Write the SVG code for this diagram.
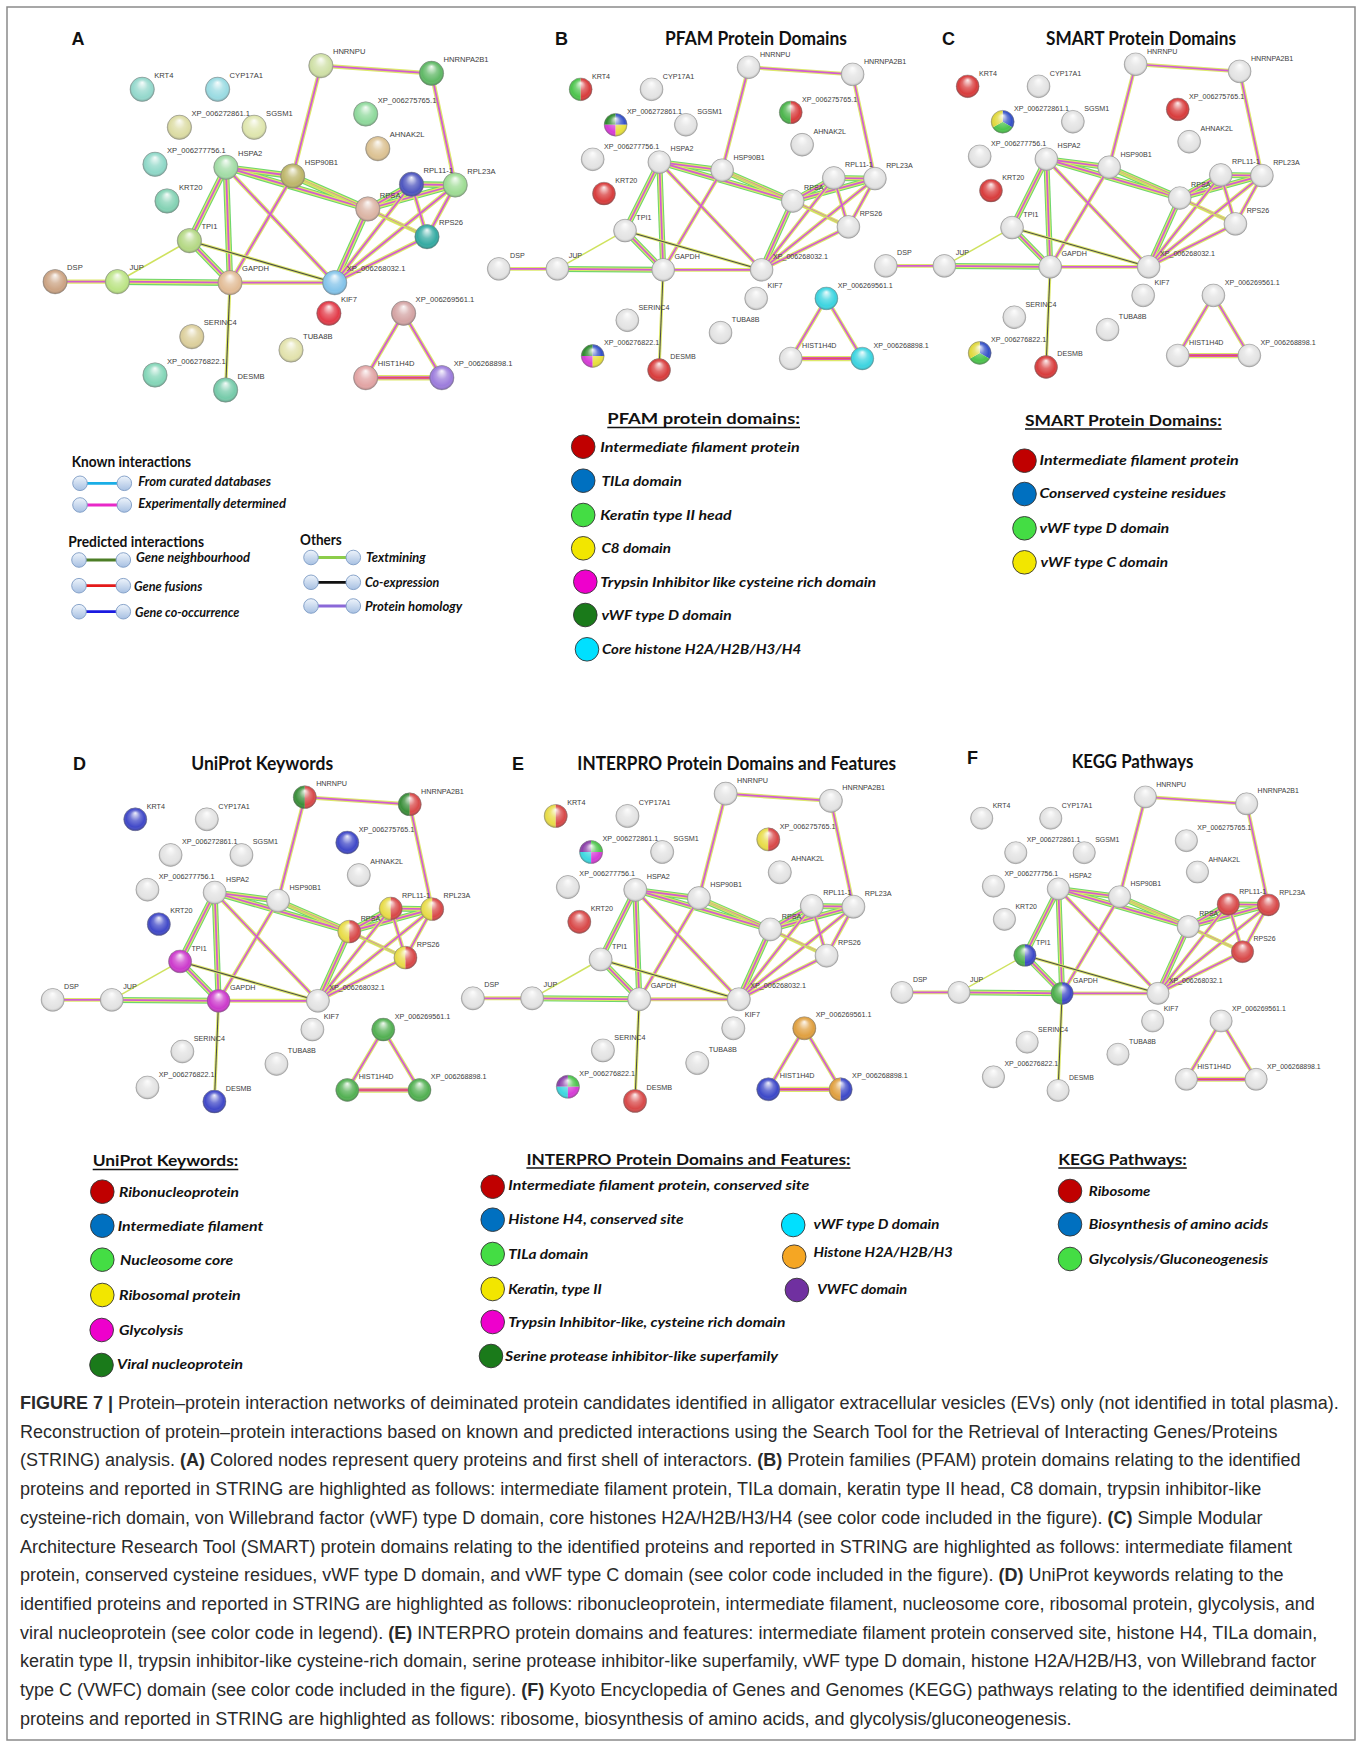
<svg xmlns="http://www.w3.org/2000/svg" width="1360" height="1744" viewBox="0 0 1360 1744">
<style>
.nodes text{font-family:"Liberation Sans",Arial,sans-serif;font-size:7.6px;fill:#3c3c3c}
.gl{fill:url(#gloss);stroke:#8f8f8f;stroke-width:.5}
.ey{fill:none;stroke:#dde86a;stroke-width:4.2}
.eyw{fill:none;stroke:#dde86a;stroke-width:5.6}
.ep{fill:none;stroke:#d35ad3;stroke-width:1.8}
.epw{fill:none;stroke:#d35ad3;stroke-width:3}
.er{fill:none;stroke:#e8505e;stroke-width:1.4}
.eg{fill:none;stroke:#6cd66c;stroke-width:6.4}
.ek{fill:none;stroke:#4b4b4b;stroke-width:1.1}
.ey2{fill:none;stroke:#dde86a;stroke-width:3.2}
.et{fill:none;stroke:#cfe25e;stroke-width:1.6}
.plet{font-family:"Liberation Sans",Arial,sans-serif;font-weight:700;font-size:18px;fill:#111;text-anchor:middle}
.ptit{font-family:Lato,"Liberation Sans",sans-serif;font-weight:700;font-size:18.5px;fill:#111;text-anchor:middle}
.lgh{font-family:Lato,"Liberation Sans",sans-serif;font-weight:700;font-size:15px;fill:#111}
.lgt{font-family:Lato,"Liberation Sans",sans-serif;font-weight:700;font-style:italic;font-size:14px;fill:#111}
.lgc{fill:url(#lgg);stroke:#7d9bc4;stroke-width:.9}
.lc{stroke:#333;stroke-width:.9}
.ul{stroke:#111;stroke-width:1.3}
.cap{font-family:"Liberation Sans",Arial,sans-serif;font-size:18px;fill:#2a2a2a}
.b{font-weight:700}
</style>
<defs>
<radialGradient id="gloss" cx="0.5" cy="0.5" r="0.5" fx="0.5" fy="0.22">
<stop offset="0" stop-color="#fff" stop-opacity=".92"/>
<stop offset=".45" stop-color="#fff" stop-opacity=".25"/>
<stop offset=".8" stop-color="#fff" stop-opacity="0"/>
<stop offset="1" stop-color="#000" stop-opacity=".28"/>
</radialGradient>
<linearGradient id="lgg" x1="0" y1="0" x2="0" y2="1"><stop offset="0" stop-color="#eef4fb"/><stop offset="1" stop-color="#a7c0e2"/></linearGradient>
<path id="hL" d="M0-12.2A12.2 12.2 0 0 0 0 12.2Z"/>
<path id="hR" d="M0-12.2A12.2 12.2 0 0 1 0 12.2Z"/>
<path id="qTL" d="M0 0V-12.2A12.2 12.2 0 0 0-12.2 0Z"/>
<path id="qTR" d="M0 0H12.2A12.2 12.2 0 0 0 0-12.2Z"/>
<path id="qBL" d="M0 0H-12.2A12.2 12.2 0 0 0 0 12.2Z"/>
<path id="qBR" d="M0 0V12.2A12.2 12.2 0 0 0 12.2 0Z"/>
<path id="t1" d="M0 0V-12.2A12.2 12.2 0 0 1 10.57 6.1Z"/>
<path id="t2" d="M0 0L10.57 6.1A12.2 12.2 0 0 1-10.57 6.1Z"/>
<path id="t3" d="M0 0L-10.57 6.1A12.2 12.2 0 0 1 0-12.2Z"/>
<g id="eS">
<line x1="320.9" y1="65.7" x2="431.5" y2="73.3"/>
<line x1="320.9" y1="65.7" x2="292.7" y2="176"/>
<line x1="431.5" y1="73.3" x2="455.2" y2="185"/>
<line x1="225.9" y1="167.3" x2="334.7" y2="282.7"/>
<line x1="292.7" y1="176" x2="230" y2="282.7"/>
<line x1="230" y1="282.7" x2="334.7" y2="282.7"/>
<line x1="334.7" y1="282.7" x2="411.5" y2="184.3"/>
<line x1="334.7" y1="282.7" x2="455.2" y2="185"/>
<line x1="334.7" y1="282.7" x2="427" y2="236.7"/>
<line x1="455.2" y1="185" x2="427" y2="236.7"/>
<line x1="411.5" y1="184.3" x2="427" y2="236.7"/>
<line x1="367.8" y1="209" x2="427" y2="236.7"/>
<line x1="403.6" y1="313.3" x2="365.7" y2="377.7"/>
<line x1="403.6" y1="313.3" x2="441.8" y2="377.7"/>
<line x1="55.1" y1="281.7" x2="117.4" y2="281.7"/>
</g>
<g id="eR">
<line x1="225.9" y1="167.3" x2="292.7" y2="176"/>
<line x1="225.9" y1="167.3" x2="367.8" y2="209"/>
<line x1="292.7" y1="176" x2="367.8" y2="209"/>
<line x1="225.9" y1="167.3" x2="189.4" y2="240.7"/>
<line x1="225.9" y1="167.3" x2="230" y2="282.7"/>
<line x1="189.4" y1="240.7" x2="230" y2="282.7"/>
<line x1="117.4" y1="281.7" x2="230" y2="282.7"/>
<line x1="367.8" y1="209" x2="411.5" y2="184.3"/>
<line x1="367.8" y1="209" x2="455.2" y2="185"/>
<line x1="411.5" y1="184.3" x2="455.2" y2="185"/>
<line x1="334.7" y1="282.7" x2="367.8" y2="209"/>
</g>
<g id="eT">
<line x1="189.4" y1="240.7" x2="117.4" y2="281.7"/>
<line x1="292.7" y1="176" x2="427" y2="236.7"/>
</g>
<g id="eK">
<line x1="189.4" y1="240.7" x2="334.7" y2="282.7"/>
<line x1="230" y1="282.7" x2="225.6" y2="390"/>
</g>
<g id="eH"><line x1="365.7" y1="377.7" x2="441.8" y2="377.7"/></g>
<g id="edges">
<use href="#eR" class="eg"/><use href="#eR" class="ey"/><use href="#eR" class="ep"/>
<use href="#eS" class="ey"/><use href="#eS" class="ep"/>
<use href="#eT" class="et"/>
<use href="#eK" class="ey2"/><use href="#eK" class="ek"/>
<use href="#eH" class="eyw"/><use href="#eH" class="epw"/><use href="#eH" class="er"/>
</g>
</defs>
<rect x="0" y="0" width="1360" height="1744" fill="#fff"/>
<rect x="7" y="7" width="1348" height="1733" fill="none" stroke="#8a8a8a" stroke-width="1.5"/>

<!-- Panel titles -->
<g id="titles">
<text class="plet" x="78" y="45">A</text>
<text class="plet" x="561.5" y="45">B</text>
<text class="ptit" x="756" y="44.5" textLength="182" lengthAdjust="spacingAndGlyphs">PFAM Protein Domains</text>
<text class="plet" x="948.5" y="45">C</text>
<text class="ptit" x="1141" y="44.5" textLength="190" lengthAdjust="spacingAndGlyphs">SMART Protein Domains</text>
<text class="plet" x="79.5" y="770">D</text>
<text class="ptit" x="262.2" y="770" textLength="142" lengthAdjust="spacingAndGlyphs">UniProt Keywords</text>
<text class="plet" x="518" y="770">E</text>
<text class="ptit" x="736.7" y="770" textLength="318.7" lengthAdjust="spacingAndGlyphs">INTERPRO Protein Domains and Features</text>
<text class="plet" x="972.5" y="764">F</text>
<text class="ptit" x="1132.5" y="768" textLength="121.6" lengthAdjust="spacingAndGlyphs">KEGG Pathways</text>
</g>

<!-- Panel A -->
<g id="panel-A">
<g id="connectors-A"><use href="#edges"/></g>
<g id="nodes-A" class="nodes">
<g id="A-HNRNPU" transform="translate(320.9 65.7)"><circle r="12.2" fill="#cfe0a6"/><circle r="12.2" class="gl"/><text x="12" y="-11.5">HNRNPU</text></g>
<g id="A-HNRNPA2B1" transform="translate(431.5 73.3)"><circle r="12.2" fill="#5fb865"/><circle r="12.2" class="gl"/><text x="12" y="-11.5">HNRNPA2B1</text></g>
<g id="A-KRT4" transform="translate(142.2 89.3)"><circle r="12.2" fill="#94d8cc"/><circle r="12.2" class="gl"/><text x="12" y="-11.5">KRT4</text></g>
<g id="A-CYP17A1" transform="translate(217.6 89.3)"><circle r="12.2" fill="#9adbe2"/><circle r="12.2" class="gl"/><text x="12" y="-11.5">CYP17A1</text></g>
<g id="A-XP_006275765_1" transform="translate(365.7 114)"><circle r="12.2" fill="#8fd99c"/><circle r="12.2" class="gl"/><text x="12" y="-11.5">XP_006275765.1</text></g>
<g id="A-XP_006272861_1" transform="translate(179.4 127.3)"><circle r="12.2" fill="#dcdca4"/><circle r="12.2" class="gl"/><text x="12" y="-11.5">XP_006272861.1</text></g>
<g id="A-SGSM1" transform="translate(254.1 127.3)"><circle r="12.2" fill="#dfe6ae"/><circle r="12.2" class="gl"/><text x="12" y="-11.5">SGSM1</text></g>
<g id="A-AHNAK2L" transform="translate(377.8 148.7)"><circle r="12.2" fill="#dcc293"/><circle r="12.2" class="gl"/><text x="12" y="-11.5">AHNAK2L</text></g>
<g id="A-XP_006277756_1" transform="translate(155 164.3)"><circle r="12.2" fill="#8fd8c8"/><circle r="12.2" class="gl"/><text x="12" y="-11.5">XP_006277756.1</text></g>
<g id="A-HSPA2" transform="translate(225.9 167.3)"><circle r="12.2" fill="#a2dca6"/><circle r="12.2" class="gl"/><text x="12" y="-11.5">HSPA2</text></g>
<g id="A-HSP90B1" transform="translate(292.7 176)"><circle r="12.2" fill="#bdb66a"/><circle r="12.2" class="gl"/><text x="12" y="-11.5">HSP90B1</text></g>
<g id="A-RPL11-1" transform="translate(411.5 184.3)"><circle r="12.2" fill="#4d55bf"/><circle r="12.2" class="gl"/><text x="12" y="-11.5">RPL11-1</text></g>
<g id="A-RPL23A" transform="translate(455.2 185)"><circle r="12.2" fill="#9edc94"/><circle r="12.2" class="gl"/><text x="12" y="-11.5">RPL23A</text></g>
<g id="A-KRT20" transform="translate(167 201)"><circle r="12.2" fill="#84d2b4"/><circle r="12.2" class="gl"/><text x="12" y="-11.5">KRT20</text></g>
<g id="A-RPSA" transform="translate(367.8 209)"><circle r="12.2" fill="#dbb4a4"/><circle r="12.2" class="gl"/><text x="12" y="-11.5">RPSA</text></g>
<g id="A-RPS26" transform="translate(427 236.7)"><circle r="12.2" fill="#34aaa2"/><circle r="12.2" class="gl"/><text x="12" y="-11.5">RPS26</text></g>
<g id="A-TPI1" transform="translate(189.4 240.7)"><circle r="12.2" fill="#b4d884"/><circle r="12.2" class="gl"/><text x="12" y="-11.5">TPI1</text></g>
<g id="A-DSP" transform="translate(55.1 281.7)"><circle r="12.2" fill="#cca484"/><circle r="12.2" class="gl"/><text x="12" y="-11.5">DSP</text></g>
<g id="A-JUP" transform="translate(117.4 281.7)"><circle r="12.2" fill="#bce486"/><circle r="12.2" class="gl"/><text x="12" y="-11.5">JUP</text></g>
<g id="A-GAPDH" transform="translate(230 282.7)"><circle r="12.2" fill="#e2bc96"/><circle r="12.2" class="gl"/><text x="12" y="-11.5">GAPDH</text></g>
<g id="A-XP_006268032_1" transform="translate(334.7 282.7)"><circle r="12.2" fill="#84c4ea"/><circle r="12.2" class="gl"/><text x="12" y="-11.5">XP_006268032.1</text></g>
<g id="A-KIF7" transform="translate(328.9 313.3)"><circle r="12.2" fill="#e23a48"/><circle r="12.2" class="gl"/><text x="12" y="-11.5">KIF7</text></g>
<g id="A-XP_006269561_1" transform="translate(403.6 313.3)"><circle r="12.2" fill="#d4a4a4"/><circle r="12.2" class="gl"/><text x="12" y="-11.5">XP_006269561.1</text></g>
<g id="A-SERINC4" transform="translate(191.8 336.7)"><circle r="12.2" fill="#dccf9c"/><circle r="12.2" class="gl"/><text x="12" y="-11.5">SERINC4</text></g>
<g id="A-TUBA8B" transform="translate(291 350)"><circle r="12.2" fill="#e2e2ac"/><circle r="12.2" class="gl"/><text x="12" y="-11.5">TUBA8B</text></g>
<g id="A-XP_006276822_1" transform="translate(155 375)"><circle r="12.2" fill="#84d6b8"/><circle r="12.2" class="gl"/><text x="12" y="-11.5">XP_006276822.1</text></g>
<g id="A-HIST1H4D" transform="translate(365.7 377.7)"><circle r="12.2" fill="#e2a4a4"/><circle r="12.2" class="gl"/><text x="12" y="-11.5">HIST1H4D</text></g>
<g id="A-XP_006268898_1" transform="translate(441.8 377.7)"><circle r="12.2" fill="#9c7cdc"/><circle r="12.2" class="gl"/><text x="12" y="-11.5">XP_006268898.1</text></g>
<g id="A-DESMB" transform="translate(225.6 390)"><circle r="12.2" fill="#76cbaa"/><circle r="12.2" class="gl"/><text x="12" y="-11.5">DESMB</text></g>
</g>
</g>

<!-- Panel B -->
<g id="panel-B" transform="matrix(0.94 0 0 0.9335 447 5.94)">
<g id="connectors-B"><use href="#edges"/></g>
<g id="nodes-B" class="nodes">
<g id="B-HNRNPU" transform="translate(320.9 65.7)"><circle r="12.2" fill="#e3e3e3"/><circle r="12.2" class="gl"/><text x="12" y="-11.5">HNRNPU</text></g>
<g id="B-HNRNPA2B1" transform="translate(431.5 73.3)"><circle r="12.2" fill="#e3e3e3"/><circle r="12.2" class="gl"/><text x="12" y="-11.5">HNRNPA2B1</text></g>
<g id="B-KRT4" transform="translate(142.2 89.3)"><use href="#hL" fill="#4cc44c"/><use href="#hR" fill="#d83c3c"/><circle r="12.2" class="gl"/><text x="12" y="-11.5">KRT4</text></g>
<g id="B-CYP17A1" transform="translate(217.6 89.3)"><circle r="12.2" fill="#e3e3e3"/><circle r="12.2" class="gl"/><text x="12" y="-11.5">CYP17A1</text></g>
<g id="B-XP_006275765_1" transform="translate(365.7 114)"><use href="#hL" fill="#4cb44c"/><use href="#hR" fill="#d83c3c"/><circle r="12.2" class="gl"/><text x="12" y="-11.5">XP_006275765.1</text></g>
<g id="B-XP_006272861_1" transform="translate(179.4 127.3)"><use href="#qTL" fill="#2e8b2e"/><use href="#qTR" fill="#3450c8"/><use href="#qBL" fill="#d63cd6"/><use href="#qBR" fill="#e8e03c"/><circle r="12.2" class="gl"/><text x="12" y="-11.5">XP_006272861.1</text></g>
<g id="B-SGSM1" transform="translate(254.1 127.3)"><circle r="12.2" fill="#e3e3e3"/><circle r="12.2" class="gl"/><text x="12" y="-11.5">SGSM1</text></g>
<g id="B-AHNAK2L" transform="translate(377.8 148.7)"><circle r="12.2" fill="#e3e3e3"/><circle r="12.2" class="gl"/><text x="12" y="-11.5">AHNAK2L</text></g>
<g id="B-XP_006277756_1" transform="translate(155 164.3)"><circle r="12.2" fill="#e3e3e3"/><circle r="12.2" class="gl"/><text x="12" y="-11.5">XP_006277756.1</text></g>
<g id="B-HSPA2" transform="translate(225.9 167.3)"><circle r="12.2" fill="#e3e3e3"/><circle r="12.2" class="gl"/><text x="12" y="-11.5">HSPA2</text></g>
<g id="B-HSP90B1" transform="translate(292.7 176)"><circle r="12.2" fill="#e3e3e3"/><circle r="12.2" class="gl"/><text x="12" y="-11.5">HSP90B1</text></g>
<g id="B-RPL11-1" transform="translate(411.5 184.3)"><circle r="12.2" fill="#e3e3e3"/><circle r="12.2" class="gl"/><text x="12" y="-11.5">RPL11-1</text></g>
<g id="B-RPL23A" transform="translate(455.2 185)"><circle r="12.2" fill="#e3e3e3"/><circle r="12.2" class="gl"/><text x="12" y="-11.5">RPL23A</text></g>
<g id="B-KRT20" transform="translate(167 201)"><circle r="12.2" fill="#d83c3c"/><circle r="12.2" class="gl"/><text x="12" y="-11.5">KRT20</text></g>
<g id="B-RPSA" transform="translate(367.8 209)"><circle r="12.2" fill="#e3e3e3"/><circle r="12.2" class="gl"/><text x="12" y="-11.5">RPSA</text></g>
<g id="B-RPS26" transform="translate(427 236.7)"><circle r="12.2" fill="#e3e3e3"/><circle r="12.2" class="gl"/><text x="12" y="-11.5">RPS26</text></g>
<g id="B-TPI1" transform="translate(189.4 240.7)"><circle r="12.2" fill="#e3e3e3"/><circle r="12.2" class="gl"/><text x="12" y="-11.5">TPI1</text></g>
<g id="B-DSP" transform="translate(55.1 281.7)"><circle r="12.2" fill="#e3e3e3"/><circle r="12.2" class="gl"/><text x="12" y="-11.5">DSP</text></g>
<g id="B-JUP" transform="translate(117.4 281.7)"><circle r="12.2" fill="#e3e3e3"/><circle r="12.2" class="gl"/><text x="12" y="-11.5">JUP</text></g>
<g id="B-GAPDH" transform="translate(230 282.7)"><circle r="12.2" fill="#e3e3e3"/><circle r="12.2" class="gl"/><text x="12" y="-11.5">GAPDH</text></g>
<g id="B-XP_006268032_1" transform="translate(334.7 282.7)"><circle r="12.2" fill="#e3e3e3"/><circle r="12.2" class="gl"/><text x="12" y="-11.5">XP_006268032.1</text></g>
<g id="B-KIF7" transform="translate(328.9 313.3)"><circle r="12.2" fill="#e3e3e3"/><circle r="12.2" class="gl"/><text x="12" y="-11.5">KIF7</text></g>
<g id="B-XP_006269561_1" transform="translate(403.6 313.3)"><circle r="12.2" fill="#3cd4e0"/><circle r="12.2" class="gl"/><text x="12" y="-11.5">XP_006269561.1</text></g>
<g id="B-SERINC4" transform="translate(191.8 336.7)"><circle r="12.2" fill="#e3e3e3"/><circle r="12.2" class="gl"/><text x="12" y="-11.5">SERINC4</text></g>
<g id="B-TUBA8B" transform="translate(291 350)"><circle r="12.2" fill="#e3e3e3"/><circle r="12.2" class="gl"/><text x="12" y="-11.5">TUBA8B</text></g>
<g id="B-XP_006276822_1" transform="translate(155 375)"><use href="#qTL" fill="#2e8b2e"/><use href="#qTR" fill="#3450c8"/><use href="#qBL" fill="#d63cd6"/><use href="#qBR" fill="#e8e03c"/><circle r="12.2" class="gl"/><text x="12" y="-11.5">XP_006276822.1</text></g>
<g id="B-HIST1H4D" transform="translate(365.7 377.7)"><circle r="12.2" fill="#e3e3e3"/><circle r="12.2" class="gl"/><text x="12" y="-11.5">HIST1H4D</text></g>
<g id="B-XP_006268898_1" transform="translate(441.8 377.7)"><circle r="12.2" fill="#3cd4e0"/><circle r="12.2" class="gl"/><text x="12" y="-11.5">XP_006268898.1</text></g>
<g id="B-DESMB" transform="translate(225.6 390)"><circle r="12.2" fill="#d83c3c"/><circle r="12.2" class="gl"/><text x="12" y="-11.5">DESMB</text></g>
</g>
</g>

<!-- Panel C -->
<g id="panel-C" transform="matrix(0.94 0 0 0.9335 834 2.94)">
<g id="connectors-C"><use href="#edges"/></g>
<g id="nodes-C" class="nodes">
<g id="C-HNRNPU" transform="translate(320.9 65.7)"><circle r="12.2" fill="#e3e3e3"/><circle r="12.2" class="gl"/><text x="12" y="-11.5">HNRNPU</text></g>
<g id="C-HNRNPA2B1" transform="translate(431.5 73.3)"><circle r="12.2" fill="#e3e3e3"/><circle r="12.2" class="gl"/><text x="12" y="-11.5">HNRNPA2B1</text></g>
<g id="C-KRT4" transform="translate(142.2 89.3)"><circle r="12.2" fill="#d83c3c"/><circle r="12.2" class="gl"/><text x="12" y="-11.5">KRT4</text></g>
<g id="C-CYP17A1" transform="translate(217.6 89.3)"><circle r="12.2" fill="#e3e3e3"/><circle r="12.2" class="gl"/><text x="12" y="-11.5">CYP17A1</text></g>
<g id="C-XP_006275765_1" transform="translate(365.7 114)"><circle r="12.2" fill="#d83c3c"/><circle r="12.2" class="gl"/><text x="12" y="-11.5">XP_006275765.1</text></g>
<g id="C-XP_006272861_1" transform="translate(179.4 127.3)"><use href="#t1" fill="#3450c8"/><use href="#t2" fill="#4cc44c"/><use href="#t3" fill="#e0d83c"/><circle r="12.2" class="gl"/><text x="12" y="-11.5">XP_006272861.1</text></g>
<g id="C-SGSM1" transform="translate(254.1 127.3)"><circle r="12.2" fill="#e3e3e3"/><circle r="12.2" class="gl"/><text x="12" y="-11.5">SGSM1</text></g>
<g id="C-AHNAK2L" transform="translate(377.8 148.7)"><circle r="12.2" fill="#e3e3e3"/><circle r="12.2" class="gl"/><text x="12" y="-11.5">AHNAK2L</text></g>
<g id="C-XP_006277756_1" transform="translate(155 164.3)"><circle r="12.2" fill="#e3e3e3"/><circle r="12.2" class="gl"/><text x="12" y="-11.5">XP_006277756.1</text></g>
<g id="C-HSPA2" transform="translate(225.9 167.3)"><circle r="12.2" fill="#e3e3e3"/><circle r="12.2" class="gl"/><text x="12" y="-11.5">HSPA2</text></g>
<g id="C-HSP90B1" transform="translate(292.7 176)"><circle r="12.2" fill="#e3e3e3"/><circle r="12.2" class="gl"/><text x="12" y="-11.5">HSP90B1</text></g>
<g id="C-RPL11-1" transform="translate(411.5 184.3)"><circle r="12.2" fill="#e3e3e3"/><circle r="12.2" class="gl"/><text x="12" y="-11.5">RPL11-1</text></g>
<g id="C-RPL23A" transform="translate(455.2 185)"><circle r="12.2" fill="#e3e3e3"/><circle r="12.2" class="gl"/><text x="12" y="-11.5">RPL23A</text></g>
<g id="C-KRT20" transform="translate(167 201)"><circle r="12.2" fill="#d83c3c"/><circle r="12.2" class="gl"/><text x="12" y="-11.5">KRT20</text></g>
<g id="C-RPSA" transform="translate(367.8 209)"><circle r="12.2" fill="#e3e3e3"/><circle r="12.2" class="gl"/><text x="12" y="-11.5">RPSA</text></g>
<g id="C-RPS26" transform="translate(427 236.7)"><circle r="12.2" fill="#e3e3e3"/><circle r="12.2" class="gl"/><text x="12" y="-11.5">RPS26</text></g>
<g id="C-TPI1" transform="translate(189.4 240.7)"><circle r="12.2" fill="#e3e3e3"/><circle r="12.2" class="gl"/><text x="12" y="-11.5">TPI1</text></g>
<g id="C-DSP" transform="translate(55.1 281.7)"><circle r="12.2" fill="#e3e3e3"/><circle r="12.2" class="gl"/><text x="12" y="-11.5">DSP</text></g>
<g id="C-JUP" transform="translate(117.4 281.7)"><circle r="12.2" fill="#e3e3e3"/><circle r="12.2" class="gl"/><text x="12" y="-11.5">JUP</text></g>
<g id="C-GAPDH" transform="translate(230 282.7)"><circle r="12.2" fill="#e3e3e3"/><circle r="12.2" class="gl"/><text x="12" y="-11.5">GAPDH</text></g>
<g id="C-XP_006268032_1" transform="translate(334.7 282.7)"><circle r="12.2" fill="#e3e3e3"/><circle r="12.2" class="gl"/><text x="12" y="-11.5">XP_006268032.1</text></g>
<g id="C-KIF7" transform="translate(328.9 313.3)"><circle r="12.2" fill="#e3e3e3"/><circle r="12.2" class="gl"/><text x="12" y="-11.5">KIF7</text></g>
<g id="C-XP_006269561_1" transform="translate(403.6 313.3)"><circle r="12.2" fill="#e3e3e3"/><circle r="12.2" class="gl"/><text x="12" y="-11.5">XP_006269561.1</text></g>
<g id="C-SERINC4" transform="translate(191.8 336.7)"><circle r="12.2" fill="#e3e3e3"/><circle r="12.2" class="gl"/><text x="12" y="-11.5">SERINC4</text></g>
<g id="C-TUBA8B" transform="translate(291 350)"><circle r="12.2" fill="#e3e3e3"/><circle r="12.2" class="gl"/><text x="12" y="-11.5">TUBA8B</text></g>
<g id="C-XP_006276822_1" transform="translate(155 375)"><use href="#t1" fill="#3450c8"/><use href="#t2" fill="#4cc44c"/><use href="#t3" fill="#e0d83c"/><circle r="12.2" class="gl"/><text x="12" y="-11.5">XP_006276822.1</text></g>
<g id="C-HIST1H4D" transform="translate(365.7 377.7)"><circle r="12.2" fill="#e3e3e3"/><circle r="12.2" class="gl"/><text x="12" y="-11.5">HIST1H4D</text></g>
<g id="C-XP_006268898_1" transform="translate(441.8 377.7)"><circle r="12.2" fill="#e3e3e3"/><circle r="12.2" class="gl"/><text x="12" y="-11.5">XP_006268898.1</text></g>
<g id="C-DESMB" transform="translate(225.6 390)"><circle r="12.2" fill="#d83c3c"/><circle r="12.2" class="gl"/><text x="12" y="-11.5">DESMB</text></g>
</g>
</g>

<!-- Panel D -->
<g id="panel-D" transform="matrix(0.9486 0 0 0.9386 0.4 735.5)">
<g id="connectors-D"><use href="#edges"/></g>
<g id="nodes-D" class="nodes">
<g id="D-HNRNPU" transform="translate(320.9 65.7)"><use href="#hL" fill="#3a8f3a"/><use href="#hR" fill="#d84848"/><circle r="12.2" class="gl"/><text x="12" y="-11.5">HNRNPU</text></g>
<g id="D-HNRNPA2B1" transform="translate(431.5 73.3)"><use href="#hL" fill="#3a8f3a"/><use href="#hR" fill="#d84848"/><circle r="12.2" class="gl"/><text x="12" y="-11.5">HNRNPA2B1</text></g>
<g id="D-KRT4" transform="translate(142.2 89.3)"><circle r="12.2" fill="#4048c8"/><circle r="12.2" class="gl"/><text x="12" y="-11.5">KRT4</text></g>
<g id="D-CYP17A1" transform="translate(217.6 89.3)"><circle r="12.2" fill="#e3e3e3"/><circle r="12.2" class="gl"/><text x="12" y="-11.5">CYP17A1</text></g>
<g id="D-XP_006275765_1" transform="translate(365.7 114)"><circle r="12.2" fill="#4048c8"/><circle r="12.2" class="gl"/><text x="12" y="-11.5">XP_006275765.1</text></g>
<g id="D-XP_006272861_1" transform="translate(179.4 127.3)"><circle r="12.2" fill="#e3e3e3"/><circle r="12.2" class="gl"/><text x="12" y="-11.5">XP_006272861.1</text></g>
<g id="D-SGSM1" transform="translate(254.1 127.3)"><circle r="12.2" fill="#e3e3e3"/><circle r="12.2" class="gl"/><text x="12" y="-11.5">SGSM1</text></g>
<g id="D-AHNAK2L" transform="translate(377.8 148.7)"><circle r="12.2" fill="#e3e3e3"/><circle r="12.2" class="gl"/><text x="12" y="-11.5">AHNAK2L</text></g>
<g id="D-XP_006277756_1" transform="translate(155 164.3)"><circle r="12.2" fill="#e3e3e3"/><circle r="12.2" class="gl"/><text x="12" y="-11.5">XP_006277756.1</text></g>
<g id="D-HSPA2" transform="translate(225.9 167.3)"><circle r="12.2" fill="#e3e3e3"/><circle r="12.2" class="gl"/><text x="12" y="-11.5">HSPA2</text></g>
<g id="D-HSP90B1" transform="translate(292.7 176)"><circle r="12.2" fill="#e3e3e3"/><circle r="12.2" class="gl"/><text x="12" y="-11.5">HSP90B1</text></g>
<g id="D-RPL11-1" transform="translate(411.5 184.3)"><use href="#hL" fill="#e8dc48"/><use href="#hR" fill="#d84848"/><circle r="12.2" class="gl"/><text x="12" y="-11.5">RPL11-1</text></g>
<g id="D-RPL23A" transform="translate(455.2 185)"><use href="#hL" fill="#e8dc48"/><use href="#hR" fill="#d84848"/><circle r="12.2" class="gl"/><text x="12" y="-11.5">RPL23A</text></g>
<g id="D-KRT20" transform="translate(167 201)"><circle r="12.2" fill="#4048c8"/><circle r="12.2" class="gl"/><text x="12" y="-11.5">KRT20</text></g>
<g id="D-RPSA" transform="translate(367.8 209)"><use href="#hL" fill="#e8dc48"/><use href="#hR" fill="#d84848"/><circle r="12.2" class="gl"/><text x="12" y="-11.5">RPSA</text></g>
<g id="D-RPS26" transform="translate(427 236.7)"><use href="#hL" fill="#e8dc48"/><use href="#hR" fill="#d84848"/><circle r="12.2" class="gl"/><text x="12" y="-11.5">RPS26</text></g>
<g id="D-TPI1" transform="translate(189.4 240.7)"><circle r="12.2" fill="#cc3acc"/><circle r="12.2" class="gl"/><text x="12" y="-11.5">TPI1</text></g>
<g id="D-DSP" transform="translate(55.1 281.7)"><circle r="12.2" fill="#e3e3e3"/><circle r="12.2" class="gl"/><text x="12" y="-11.5">DSP</text></g>
<g id="D-JUP" transform="translate(117.4 281.7)"><circle r="12.2" fill="#e3e3e3"/><circle r="12.2" class="gl"/><text x="12" y="-11.5">JUP</text></g>
<g id="D-GAPDH" transform="translate(230 282.7)"><circle r="12.2" fill="#cc3acc"/><circle r="12.2" class="gl"/><text x="12" y="-11.5">GAPDH</text></g>
<g id="D-XP_006268032_1" transform="translate(334.7 282.7)"><circle r="12.2" fill="#e3e3e3"/><circle r="12.2" class="gl"/><text x="12" y="-11.5">XP_006268032.1</text></g>
<g id="D-KIF7" transform="translate(328.9 313.3)"><circle r="12.2" fill="#e3e3e3"/><circle r="12.2" class="gl"/><text x="12" y="-11.5">KIF7</text></g>
<g id="D-XP_006269561_1" transform="translate(403.6 313.3)"><circle r="12.2" fill="#52b052"/><circle r="12.2" class="gl"/><text x="12" y="-11.5">XP_006269561.1</text></g>
<g id="D-SERINC4" transform="translate(191.8 336.7)"><circle r="12.2" fill="#e3e3e3"/><circle r="12.2" class="gl"/><text x="12" y="-11.5">SERINC4</text></g>
<g id="D-TUBA8B" transform="translate(291 350)"><circle r="12.2" fill="#e3e3e3"/><circle r="12.2" class="gl"/><text x="12" y="-11.5">TUBA8B</text></g>
<g id="D-XP_006276822_1" transform="translate(155 375)"><circle r="12.2" fill="#e3e3e3"/><circle r="12.2" class="gl"/><text x="12" y="-11.5">XP_006276822.1</text></g>
<g id="D-HIST1H4D" transform="translate(365.7 377.7)"><circle r="12.2" fill="#52b052"/><circle r="12.2" class="gl"/><text x="12" y="-11.5">HIST1H4D</text></g>
<g id="D-XP_006268898_1" transform="translate(441.8 377.7)"><circle r="12.2" fill="#52b052"/><circle r="12.2" class="gl"/><text x="12" y="-11.5">XP_006268898.1</text></g>
<g id="D-DESMB" transform="translate(225.6 390)"><circle r="12.2" fill="#4048c8"/><circle r="12.2" class="gl"/><text x="12" y="-11.5">DESMB</text></g>
</g>
</g>

<!-- Panel E -->
<g id="panel-E" transform="matrix(0.951 0 0 0.9476 420.5 731.4)">
<g id="connectors-E"><use href="#edges"/></g>
<g id="nodes-E" class="nodes">
<g id="E-HNRNPU" transform="translate(320.9 65.7)"><circle r="12.2" fill="#e3e3e3"/><circle r="12.2" class="gl"/><text x="12" y="-11.5">HNRNPU</text></g>
<g id="E-HNRNPA2B1" transform="translate(431.5 73.3)"><circle r="12.2" fill="#e3e3e3"/><circle r="12.2" class="gl"/><text x="12" y="-11.5">HNRNPA2B1</text></g>
<g id="E-KRT4" transform="translate(142.2 89.3)"><use href="#hL" fill="#e8dc48"/><use href="#hR" fill="#d84848"/><circle r="12.2" class="gl"/><text x="12" y="-11.5">KRT4</text></g>
<g id="E-CYP17A1" transform="translate(217.6 89.3)"><circle r="12.2" fill="#e3e3e3"/><circle r="12.2" class="gl"/><text x="12" y="-11.5">CYP17A1</text></g>
<g id="E-XP_006275765_1" transform="translate(365.7 114)"><use href="#hL" fill="#e8dc48"/><use href="#hR" fill="#d84848"/><circle r="12.2" class="gl"/><text x="12" y="-11.5">XP_006275765.1</text></g>
<g id="E-XP_006272861_1" transform="translate(179.4 127.3)"><use href="#qTL" fill="#8a3ea8"/><use href="#qTR" fill="#4cc44c"/><use href="#qBL" fill="#3cd8e0"/><use href="#qBR" fill="#d63cd6"/><circle r="12.2" class="gl"/><text x="12" y="-11.5">XP_006272861.1</text></g>
<g id="E-SGSM1" transform="translate(254.1 127.3)"><circle r="12.2" fill="#e3e3e3"/><circle r="12.2" class="gl"/><text x="12" y="-11.5">SGSM1</text></g>
<g id="E-AHNAK2L" transform="translate(377.8 148.7)"><circle r="12.2" fill="#e3e3e3"/><circle r="12.2" class="gl"/><text x="12" y="-11.5">AHNAK2L</text></g>
<g id="E-XP_006277756_1" transform="translate(155 164.3)"><circle r="12.2" fill="#e3e3e3"/><circle r="12.2" class="gl"/><text x="12" y="-11.5">XP_006277756.1</text></g>
<g id="E-HSPA2" transform="translate(225.9 167.3)"><circle r="12.2" fill="#e3e3e3"/><circle r="12.2" class="gl"/><text x="12" y="-11.5">HSPA2</text></g>
<g id="E-HSP90B1" transform="translate(292.7 176)"><circle r="12.2" fill="#e3e3e3"/><circle r="12.2" class="gl"/><text x="12" y="-11.5">HSP90B1</text></g>
<g id="E-RPL11-1" transform="translate(411.5 184.3)"><circle r="12.2" fill="#e3e3e3"/><circle r="12.2" class="gl"/><text x="12" y="-11.5">RPL11-1</text></g>
<g id="E-RPL23A" transform="translate(455.2 185)"><circle r="12.2" fill="#e3e3e3"/><circle r="12.2" class="gl"/><text x="12" y="-11.5">RPL23A</text></g>
<g id="E-KRT20" transform="translate(167 201)"><circle r="12.2" fill="#d84848"/><circle r="12.2" class="gl"/><text x="12" y="-11.5">KRT20</text></g>
<g id="E-RPSA" transform="translate(367.8 209)"><circle r="12.2" fill="#e3e3e3"/><circle r="12.2" class="gl"/><text x="12" y="-11.5">RPSA</text></g>
<g id="E-RPS26" transform="translate(427 236.7)"><circle r="12.2" fill="#e3e3e3"/><circle r="12.2" class="gl"/><text x="12" y="-11.5">RPS26</text></g>
<g id="E-TPI1" transform="translate(189.4 240.7)"><circle r="12.2" fill="#e3e3e3"/><circle r="12.2" class="gl"/><text x="12" y="-11.5">TPI1</text></g>
<g id="E-DSP" transform="translate(55.1 281.7)"><circle r="12.2" fill="#e3e3e3"/><circle r="12.2" class="gl"/><text x="12" y="-11.5">DSP</text></g>
<g id="E-JUP" transform="translate(117.4 281.7)"><circle r="12.2" fill="#e3e3e3"/><circle r="12.2" class="gl"/><text x="12" y="-11.5">JUP</text></g>
<g id="E-GAPDH" transform="translate(230 282.7)"><circle r="12.2" fill="#e3e3e3"/><circle r="12.2" class="gl"/><text x="12" y="-11.5">GAPDH</text></g>
<g id="E-XP_006268032_1" transform="translate(334.7 282.7)"><circle r="12.2" fill="#e3e3e3"/><circle r="12.2" class="gl"/><text x="12" y="-11.5">XP_006268032.1</text></g>
<g id="E-KIF7" transform="translate(328.9 313.3)"><circle r="12.2" fill="#e3e3e3"/><circle r="12.2" class="gl"/><text x="12" y="-11.5">KIF7</text></g>
<g id="E-XP_006269561_1" transform="translate(403.6 313.3)"><circle r="12.2" fill="#e0a040"/><circle r="12.2" class="gl"/><text x="12" y="-11.5">XP_006269561.1</text></g>
<g id="E-SERINC4" transform="translate(191.8 336.7)"><circle r="12.2" fill="#e3e3e3"/><circle r="12.2" class="gl"/><text x="12" y="-11.5">SERINC4</text></g>
<g id="E-TUBA8B" transform="translate(291 350)"><circle r="12.2" fill="#e3e3e3"/><circle r="12.2" class="gl"/><text x="12" y="-11.5">TUBA8B</text></g>
<g id="E-XP_006276822_1" transform="translate(155 375)"><use href="#qTL" fill="#8a3ea8"/><use href="#qTR" fill="#4cc44c"/><use href="#qBL" fill="#3cd8e0"/><use href="#qBR" fill="#d63cd6"/><circle r="12.2" class="gl"/><text x="12" y="-11.5">XP_006276822.1</text></g>
<g id="E-HIST1H4D" transform="translate(365.7 377.7)"><circle r="12.2" fill="#3c48c8"/><circle r="12.2" class="gl"/><text x="12" y="-11.5">HIST1H4D</text></g>
<g id="E-XP_006268898_1" transform="translate(441.8 377.7)"><use href="#hL" fill="#e0a040"/><use href="#hR" fill="#3c48c8"/><circle r="12.2" class="gl"/><text x="12" y="-11.5">XP_006268898.1</text></g>
<g id="E-DESMB" transform="translate(225.6 390)"><circle r="12.2" fill="#d84848"/><circle r="12.2" class="gl"/><text x="12" y="-11.5">DESMB</text></g>
</g>
</g>

<!-- Panel F -->
<g id="panel-F" transform="matrix(0.9157 0 0 0.905 851.5 737.5)">
<g id="connectors-F"><use href="#edges"/></g>
<g id="nodes-F" class="nodes">
<g id="F-HNRNPU" transform="translate(320.9 65.7)"><circle r="12.2" fill="#e3e3e3"/><circle r="12.2" class="gl"/><text x="12" y="-11.5">HNRNPU</text></g>
<g id="F-HNRNPA2B1" transform="translate(431.5 73.3)"><circle r="12.2" fill="#e3e3e3"/><circle r="12.2" class="gl"/><text x="12" y="-11.5">HNRNPA2B1</text></g>
<g id="F-KRT4" transform="translate(142.2 89.3)"><circle r="12.2" fill="#e3e3e3"/><circle r="12.2" class="gl"/><text x="12" y="-11.5">KRT4</text></g>
<g id="F-CYP17A1" transform="translate(217.6 89.3)"><circle r="12.2" fill="#e3e3e3"/><circle r="12.2" class="gl"/><text x="12" y="-11.5">CYP17A1</text></g>
<g id="F-XP_006275765_1" transform="translate(365.7 114)"><circle r="12.2" fill="#e3e3e3"/><circle r="12.2" class="gl"/><text x="12" y="-11.5">XP_006275765.1</text></g>
<g id="F-XP_006272861_1" transform="translate(179.4 127.3)"><circle r="12.2" fill="#e3e3e3"/><circle r="12.2" class="gl"/><text x="12" y="-11.5">XP_006272861.1</text></g>
<g id="F-SGSM1" transform="translate(254.1 127.3)"><circle r="12.2" fill="#e3e3e3"/><circle r="12.2" class="gl"/><text x="12" y="-11.5">SGSM1</text></g>
<g id="F-AHNAK2L" transform="translate(377.8 148.7)"><circle r="12.2" fill="#e3e3e3"/><circle r="12.2" class="gl"/><text x="12" y="-11.5">AHNAK2L</text></g>
<g id="F-XP_006277756_1" transform="translate(155 164.3)"><circle r="12.2" fill="#e3e3e3"/><circle r="12.2" class="gl"/><text x="12" y="-11.5">XP_006277756.1</text></g>
<g id="F-HSPA2" transform="translate(225.9 167.3)"><circle r="12.2" fill="#e3e3e3"/><circle r="12.2" class="gl"/><text x="12" y="-11.5">HSPA2</text></g>
<g id="F-HSP90B1" transform="translate(292.7 176)"><circle r="12.2" fill="#e3e3e3"/><circle r="12.2" class="gl"/><text x="12" y="-11.5">HSP90B1</text></g>
<g id="F-RPL11-1" transform="translate(411.5 184.3)"><circle r="12.2" fill="#d84848"/><circle r="12.2" class="gl"/><text x="12" y="-11.5">RPL11-1</text></g>
<g id="F-RPL23A" transform="translate(455.2 185)"><circle r="12.2" fill="#d84848"/><circle r="12.2" class="gl"/><text x="12" y="-11.5">RPL23A</text></g>
<g id="F-KRT20" transform="translate(167 201)"><circle r="12.2" fill="#e3e3e3"/><circle r="12.2" class="gl"/><text x="12" y="-11.5">KRT20</text></g>
<g id="F-RPSA" transform="translate(367.8 209)"><circle r="12.2" fill="#e3e3e3"/><circle r="12.2" class="gl"/><text x="12" y="-11.5">RPSA</text></g>
<g id="F-RPS26" transform="translate(427 236.7)"><circle r="12.2" fill="#d84848"/><circle r="12.2" class="gl"/><text x="12" y="-11.5">RPS26</text></g>
<g id="F-TPI1" transform="translate(189.4 240.7)"><use href="#hL" fill="#4cb04c"/><use href="#hR" fill="#3c48c8"/><circle r="12.2" class="gl"/><text x="12" y="-11.5">TPI1</text></g>
<g id="F-DSP" transform="translate(55.1 281.7)"><circle r="12.2" fill="#e3e3e3"/><circle r="12.2" class="gl"/><text x="12" y="-11.5">DSP</text></g>
<g id="F-JUP" transform="translate(117.4 281.7)"><circle r="12.2" fill="#e3e3e3"/><circle r="12.2" class="gl"/><text x="12" y="-11.5">JUP</text></g>
<g id="F-GAPDH" transform="translate(230 282.7)"><use href="#hL" fill="#4cb04c"/><use href="#hR" fill="#3c48c8"/><circle r="12.2" class="gl"/><text x="12" y="-11.5">GAPDH</text></g>
<g id="F-XP_006268032_1" transform="translate(334.7 282.7)"><circle r="12.2" fill="#e3e3e3"/><circle r="12.2" class="gl"/><text x="12" y="-11.5">XP_006268032.1</text></g>
<g id="F-KIF7" transform="translate(328.9 313.3)"><circle r="12.2" fill="#e3e3e3"/><circle r="12.2" class="gl"/><text x="12" y="-11.5">KIF7</text></g>
<g id="F-XP_006269561_1" transform="translate(403.6 313.3)"><circle r="12.2" fill="#e3e3e3"/><circle r="12.2" class="gl"/><text x="12" y="-11.5">XP_006269561.1</text></g>
<g id="F-SERINC4" transform="translate(191.8 336.7)"><circle r="12.2" fill="#e3e3e3"/><circle r="12.2" class="gl"/><text x="12" y="-11.5">SERINC4</text></g>
<g id="F-TUBA8B" transform="translate(291 350)"><circle r="12.2" fill="#e3e3e3"/><circle r="12.2" class="gl"/><text x="12" y="-11.5">TUBA8B</text></g>
<g id="F-XP_006276822_1" transform="translate(155 375)"><circle r="12.2" fill="#e3e3e3"/><circle r="12.2" class="gl"/><text x="12" y="-11.5">XP_006276822.1</text></g>
<g id="F-HIST1H4D" transform="translate(365.7 377.7)"><circle r="12.2" fill="#e3e3e3"/><circle r="12.2" class="gl"/><text x="12" y="-11.5">HIST1H4D</text></g>
<g id="F-XP_006268898_1" transform="translate(441.8 377.7)"><circle r="12.2" fill="#e3e3e3"/><circle r="12.2" class="gl"/><text x="12" y="-11.5">XP_006268898.1</text></g>
<g id="F-DESMB" transform="translate(225.6 390)"><circle r="12.2" fill="#e3e3e3"/><circle r="12.2" class="gl"/><text x="12" y="-11.5">DESMB</text></g>
</g>
</g>

<!-- Legend A -->
<g id="legend-A">
<text class="lgh" x="71.7" y="467" textLength="119.3" lengthAdjust="spacingAndGlyphs">Known interactions</text>
<line x1="80" y1="483.3" x2="124.3" y2="483.3" stroke="#1aaee6" stroke-width="2.8"/>
<circle cx="80" cy="483.3" r="7.3" class="lgc"/><circle cx="124.3" cy="483.3" r="7.3" class="lgc"/>
<text class="lgt" x="138.3" y="486" textLength="132.7" lengthAdjust="spacingAndGlyphs">From curated databases</text>
<line x1="80" y1="505" x2="124.3" y2="505" stroke="#e828c8" stroke-width="2.8"/>
<circle cx="80" cy="505" r="7.3" class="lgc"/><circle cx="124.3" cy="505" r="7.3" class="lgc"/>
<text class="lgt" x="138.3" y="507.7" textLength="147.7" lengthAdjust="spacingAndGlyphs">Experimentally  determined</text>
<text class="lgh" x="68.3" y="547" textLength="135.7" lengthAdjust="spacingAndGlyphs">Predicted interactions</text>
<line x1="79" y1="560" x2="123.3" y2="560" stroke="#4d7e26" stroke-width="2.8"/>
<circle cx="79" cy="560" r="7.3" class="lgc"/><circle cx="123.3" cy="560" r="7.3" class="lgc"/>
<text class="lgt" x="136" y="562.3" textLength="114" lengthAdjust="spacingAndGlyphs">Gene neighbourhood</text>
<line x1="79" y1="585.7" x2="123.3" y2="585.7" stroke="#e41a1a" stroke-width="2.8"/>
<circle cx="79" cy="585.7" r="7.3" class="lgc"/><circle cx="123.3" cy="585.7" r="7.3" class="lgc"/>
<text class="lgt" x="134" y="590.5" textLength="68.3" lengthAdjust="spacingAndGlyphs">Gene fusions</text>
<line x1="79" y1="611.7" x2="123.3" y2="611.7" stroke="#1a1ae0" stroke-width="2.8"/>
<circle cx="79" cy="611.7" r="7.3" class="lgc"/><circle cx="123.3" cy="611.7" r="7.3" class="lgc"/>
<text class="lgt" x="135" y="616.5" textLength="104.3" lengthAdjust="spacingAndGlyphs">Gene co-occurrence</text>
<text class="lgh" x="300" y="544.5" textLength="41.7" lengthAdjust="spacingAndGlyphs">Others</text>
<line x1="311" y1="557.5" x2="353.3" y2="557.5" stroke="#8ccd4a" stroke-width="2.8"/>
<circle cx="311" cy="557.5" r="7.3" class="lgc"/><circle cx="353.3" cy="557.5" r="7.3" class="lgc"/>
<text class="lgt" x="366" y="561.5" textLength="59.7" lengthAdjust="spacingAndGlyphs">Textmining</text>
<line x1="311" y1="582.3" x2="353.3" y2="582.3" stroke="#111" stroke-width="2.8"/>
<circle cx="311" cy="582.3" r="7.3" class="lgc"/><circle cx="353.3" cy="582.3" r="7.3" class="lgc"/>
<text class="lgt" x="365" y="587" textLength="74.3" lengthAdjust="spacingAndGlyphs">Co-expression</text>
<line x1="311" y1="606" x2="353.3" y2="606" stroke="#8a68d8" stroke-width="2.8"/>
<circle cx="311" cy="606" r="7.3" class="lgc"/><circle cx="353.3" cy="606" r="7.3" class="lgc"/>
<text class="lgt" x="365" y="610.5" textLength="97.3" lengthAdjust="spacingAndGlyphs">Protein homology</text>
</g>

<!-- Legend B -->
<g id="legend-B">
<text class="lgh" x="607.3" y="424" textLength="192.7" lengthAdjust="spacingAndGlyphs">PFAM protein domains:</text>
<line class="ul" x1="607.3" y1="427.5" x2="800" y2="427.5"/>
<circle class="lc" cx="583.2" cy="446.7" r="11.8" fill="#c00000"/><text class="lgt" x="600.3" y="452.3" textLength="199.3" lengthAdjust="spacingAndGlyphs">Intermediate filament protein</text>
<circle class="lc" cx="583.2" cy="480.7" r="11.8" fill="#0070c0"/><text class="lgt" x="601.4" y="485.7" textLength="80.4" lengthAdjust="spacingAndGlyphs">TILa domain</text>
<circle class="lc" cx="583.2" cy="515" r="11.8" fill="#44dd44"/><text class="lgt" x="600.3" y="520" textLength="131.3" lengthAdjust="spacingAndGlyphs">Keratin type II head</text>
<circle class="lc" cx="583.2" cy="548.3" r="11.8" fill="#f2e600"/><text class="lgt" x="601.4" y="553.3" textLength="69.6" lengthAdjust="spacingAndGlyphs">C8 domain</text>
<circle class="lc" cx="585.3" cy="581.7" r="11.8" fill="#ee00cc"/><text class="lgt" x="600.3" y="586.7" textLength="275.9" lengthAdjust="spacingAndGlyphs">Trypsin Inhibitor like cysteine rich domain</text>
<circle class="lc" cx="585.3" cy="615" r="11.8" fill="#1a7a1a"/><text class="lgt" x="601.4" y="620" textLength="130.2" lengthAdjust="spacingAndGlyphs">vWF type D domain</text>
<circle class="lc" cx="587" cy="649.3" r="11.8" fill="#00e0ff"/><text class="lgt" x="602" y="654.3" textLength="199.2" lengthAdjust="spacingAndGlyphs">Core histone H2A/H2B/H3/H4</text>
</g>

<!-- Legend C -->
<g id="legend-C">
<text class="lgh" x="1025" y="425.5" textLength="196.7" lengthAdjust="spacingAndGlyphs">SMART Protein Domains:</text>
<line class="ul" x1="1025" y1="429" x2="1221.7" y2="429"/>
<circle class="lc" cx="1024.5" cy="460.7" r="11.8" fill="#c00000"/><text class="lgt" x="1039.5" y="464.5" textLength="199.3" lengthAdjust="spacingAndGlyphs">Intermediate filament protein</text>
<circle class="lc" cx="1024.5" cy="494" r="11.8" fill="#0070c0"/><text class="lgt" x="1039.5" y="498" textLength="186.5" lengthAdjust="spacingAndGlyphs">Conserved cysteine residues</text>
<circle class="lc" cx="1024.5" cy="528.3" r="11.8" fill="#44dd44"/><text class="lgt" x="1039.5" y="533" textLength="129.7" lengthAdjust="spacingAndGlyphs">vWF type D domain</text>
<circle class="lc" cx="1024.5" cy="562.3" r="11.8" fill="#f2e600"/><text class="lgt" x="1040.6" y="566.5" textLength="127.4" lengthAdjust="spacingAndGlyphs">vWF type C domain</text>
</g>

<!-- Legend D -->
<g id="legend-D" transform="translate(0 -25)">
<text class="lgh" x="92.7" y="1191" textLength="145.6" lengthAdjust="spacingAndGlyphs">UniProt Keywords:</text>
<line class="ul" x1="92.7" y1="1194.5" x2="238.3" y2="1194.5"/>
<circle class="lc" cx="102.3" cy="1216.7" r="11.8" fill="#c00000"/><text class="lgt" x="119" y="1222.3" textLength="120" lengthAdjust="spacingAndGlyphs">Ribonucleoprotein</text>
<circle class="lc" cx="102.3" cy="1250.7" r="11.8" fill="#0070c0"/><text class="lgt" x="117.7" y="1255.7" textLength="145.7" lengthAdjust="spacingAndGlyphs">Intermediate filament</text>
<circle class="lc" cx="102.3" cy="1284.7" r="11.8" fill="#44dd44"/><text class="lgt" x="120" y="1289.7" textLength="113.3" lengthAdjust="spacingAndGlyphs">Nucleosome core</text>
<circle class="lc" cx="102.3" cy="1320" r="11.8" fill="#f2e600"/><text class="lgt" x="119" y="1325" textLength="121.7" lengthAdjust="spacingAndGlyphs">Ribosomal  protein</text>
<circle class="lc" cx="101.7" cy="1355" r="11.8" fill="#ee00cc"/><text class="lgt" x="119" y="1360" textLength="64.3" lengthAdjust="spacingAndGlyphs">Glycolysis</text>
<circle class="lc" cx="101.5" cy="1390" r="11.8" fill="#1a7a1a"/><text class="lgt" x="117" y="1393.5" textLength="126" lengthAdjust="spacingAndGlyphs">Viral nucleoprotein</text>
</g>

<!-- Legend E -->
<g id="legend-E" transform="translate(0 -25)">
<text class="lgh" x="526.4" y="1189.5" textLength="324.1" lengthAdjust="spacingAndGlyphs">INTERPRO Protein Domains and Features:</text>
<line class="ul" x1="526.4" y1="1193" x2="850.5" y2="1193"/>
<circle class="lc" cx="492.7" cy="1211.7" r="11.8" fill="#c00000"/><text class="lgt" x="508.3" y="1215" textLength="301" lengthAdjust="spacingAndGlyphs">Intermediate filament protein, conserved site</text>
<circle class="lc" cx="492.7" cy="1244.7" r="11.8" fill="#0070c0"/><text class="lgt" x="508.3" y="1249" textLength="175.4" lengthAdjust="spacingAndGlyphs">Histone H4, conserved site</text>
<circle class="lc" cx="492.7" cy="1279" r="11.8" fill="#44dd44"/><text class="lgt" x="508.3" y="1284.3" textLength="80" lengthAdjust="spacingAndGlyphs">TILa domain</text>
<circle class="lc" cx="492.7" cy="1314" r="11.8" fill="#f2e600"/><text class="lgt" x="508.3" y="1319" textLength="93.4" lengthAdjust="spacingAndGlyphs">Keratin, type II</text>
<circle class="lc" cx="492.7" cy="1347" r="11.8" fill="#ee00cc"/><text class="lgt" x="508.3" y="1352.3" textLength="277.1" lengthAdjust="spacingAndGlyphs">Trypsin Inhibitor-like, cysteine rich domain</text>
<circle class="lc" cx="491" cy="1381" r="11.8" fill="#1a7a1a"/><text class="lgt" x="505" y="1386" textLength="273" lengthAdjust="spacingAndGlyphs">Serine protease inhibitor-like superfamily</text>
<circle class="lc" cx="793.2" cy="1250" r="11.8" fill="#00e0ff"/><text class="lgt" x="813.5" y="1254" textLength="125.9" lengthAdjust="spacingAndGlyphs">vWF type D domain</text>
<circle class="lc" cx="794.2" cy="1281.7" r="11.8" fill="#f5a623"/><text class="lgt" x="813.5" y="1281.7" textLength="139.3" lengthAdjust="spacingAndGlyphs">Histone H2A/H2B/H3</text>
<circle class="lc" cx="796.9" cy="1315" r="11.8" fill="#7030a0"/><text class="lgt" x="817.3" y="1319" textLength="89.9" lengthAdjust="spacingAndGlyphs">VWFC domain</text>
</g>

<!-- Legend F -->
<g id="legend-F" transform="translate(0 -25)">
<text class="lgh" x="1058.3" y="1189.5" textLength="128.5" lengthAdjust="spacingAndGlyphs">KEGG Pathways:</text>
<line class="ul" x1="1058.3" y1="1193" x2="1186.8" y2="1193"/>
<circle class="lc" cx="1070" cy="1216" r="11.8" fill="#c00000"/><text class="lgt" x="1088.8" y="1221" textLength="61.6" lengthAdjust="spacingAndGlyphs">Ribosome</text>
<circle class="lc" cx="1070" cy="1249.3" r="11.8" fill="#0070c0"/><text class="lgt" x="1088.8" y="1254.3" textLength="179.5" lengthAdjust="spacingAndGlyphs">Biosynthesis of amino acids</text>
<circle class="lc" cx="1070" cy="1284" r="11.8" fill="#44dd44"/><text class="lgt" x="1088.8" y="1289" textLength="179.5" lengthAdjust="spacingAndGlyphs">Glycolysis/Gluconeogenesis</text>
</g>

<!-- Caption -->
<g id="caption" class="cap">
<text x="20" y="1409"><tspan class="b">FIGURE 7 | </tspan>Protein–protein interaction networks of deiminated protein candidates identified in alligator extracellular vesicles (EVs) only (not identified in total plasma).</text>
<text x="20" y="1437.7">Reconstruction of protein–protein interactions based on known and predicted interactions using the Search Tool for the Retrieval of Interacting Genes/Proteins</text>
<text x="20" y="1466.4">(STRING) analysis. <tspan class="b">(A)</tspan> Colored nodes represent query proteins and first shell of interactors. <tspan class="b">(B)</tspan> Protein families (PFAM) protein domains relating to the identified</text>
<text x="20" y="1495.1">proteins and reported in STRING are highlighted as follows: intermediate filament protein, TILa domain, keratin type II head, C8 domain, trypsin inhibitor-like</text>
<text x="20" y="1523.8">cysteine-rich domain, von Willebrand factor (vWF) type D domain, core histones H2A/H2B/H3/H4 (see color code included in the figure). <tspan class="b">(C)</tspan> Simple Modular</text>
<text x="20" y="1552.5">Architecture Research Tool (SMART) protein domains relating to the identified proteins and reported in STRING are highlighted as follows: intermediate filament</text>
<text x="20" y="1581.2">protein, conserved cysteine residues, vWF type D domain, and vWF type C domain (see color code included in the figure). <tspan class="b">(D)</tspan> UniProt keywords relating to the</text>
<text x="20" y="1609.9">identified proteins and reported in STRING are highlighted as follows: ribonucleoprotein, intermediate filament, nucleosome core, ribosomal protein, glycolysis, and</text>
<text x="20" y="1638.6">viral nucleoprotein (see color code in legend). <tspan class="b">(E)</tspan> INTERPRO protein domains and features: intermediate filament protein conserved site, histone H4, TILa domain,</text>
<text x="20" y="1667.3">keratin type II, trypsin inhibitor-like cysteine-rich domain, serine protease inhibitor-like superfamily, vWF type D domain, histone H2A/H2B/H3, von Willebrand factor</text>
<text x="20" y="1696">type C (VWFC) domain (see color code included in the figure). <tspan class="b">(F)</tspan> Kyoto Encyclopedia of Genes and Genomes (KEGG) pathways relating to the identified deiminated</text>
<text x="20" y="1724.7">proteins and reported in STRING are highlighted as follows: ribosome, biosynthesis of amino acids, and glycolysis/gluconeogenesis.</text>
</g>
</svg>
